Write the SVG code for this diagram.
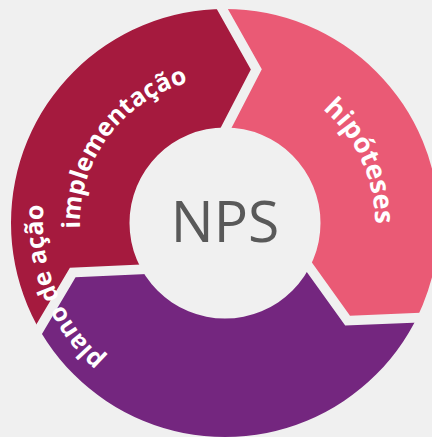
<svg xmlns="http://www.w3.org/2000/svg" width="432" height="437" viewBox="0 0 432 437">
  <style>
    .lbl { font-family: "Open Sans", "Liberation Sans", sans-serif; font-weight: 700; font-size: 25px; fill: #ffffff; }
    .big { font-size: 27px; }
    .nps { font-family: "Open Sans", "Liberation Sans", sans-serif; font-weight: 400; font-size: 57px; fill: #595959; }
  </style>
  <defs>
    <clipPath id="ring">
      <path clip-rule="evenodd" d="M11,223 A214,214 0 1,1 439,223 A214,214 0 1,1 11,223 Z M129.5,223 A95.5,95.5 0 1,0 320.5,223 A95.5,95.5 0 1,0 129.5,223 Z"/>
    </clipPath>
    <path id="arcImpl" d="M104.09,303.03 A145,145 0 0,1 266.18,83.97"/>
    <path id="arcHip" d="M213.23,73.46 A150,150 0 0,1 330.14,329.99"/>
    <path id="arcPlano" d="M229.76,404.94 A182,182 0 0,1 104.40,86.69"/>
  </defs>
  <rect width="432" height="437" fill="#f0f0f0"/>
  <g id="segments" clip-path="url(#ring)">
    <g id="seg-implementacao">
      <polygon fill="#a51a3e" points="-71.38,506.38 69.91,267.77 201.60,261.72 191.79,183.57 250.83,69.53 113.16,-175.11 -32.52,-205.58 -212.31,-19.41 -274.92,231.73"/>
    </g>
    <g id="seg-hipoteses">
      <polygon fill="#ea5a75" points="124.15,-175.30 261.82,69.33 202.79,183.38 275.21,211.31 350.02,315.69 630.49,304.08 724.92,214.27 653.58,-34.52 467.41,-214.31"/>
    </g>
    <g id="seg-plano">
      <polygon fill="#74267f" points="625.67,313.97 345.20,325.57 270.39,221.19 207.27,271.15 75.57,277.20 -65.71,515.81 5.81,672.40 259.88,721.78 504.60,637.52"/>
    </g>
  </g>
  <g id="connectors"/>
  <g id="labels">
    <text class="lbl"><textPath href="#arcImpl" startOffset="50%" text-anchor="middle">implementação</textPath></text>
    <text class="lbl big"><textPath href="#arcHip" startOffset="50%" text-anchor="middle">hipóteses</textPath></text>
    <text class="lbl"><textPath href="#arcPlano" startOffset="50%" text-anchor="middle">plano de ação</textPath></text>
  </g>
  <g id="center-nps">
    <text class="nps" x="225" y="242" text-anchor="middle">NPS</text>
  </g>
</svg>
